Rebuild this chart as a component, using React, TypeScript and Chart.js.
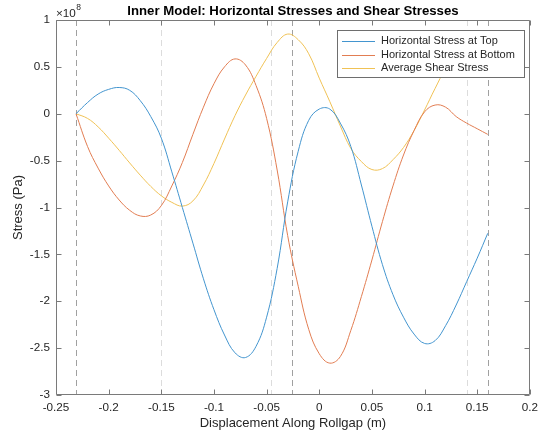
import React, { useEffect, useRef } from 'react';
import { Chart, registerables } from 'chart.js';

Chart.register(...registerables);

// Displacement along rollgap (m)
const xValues = [
  -0.231, -0.22, -0.21, -0.2, -0.19, -0.18, -0.17, -0.16, -0.15, -0.14,
  -0.13, -0.12, -0.11, -0.1, -0.09, -0.08, -0.07, -0.06, -0.05, -0.04,
  -0.03, -0.02, -0.01, 0.0, 0.01, 0.02, 0.03, 0.04, 0.05, 0.06,
  0.07, 0.08, 0.09, 0.1, 0.11, 0.12, 0.13, 0.14, 0.15, 0.16,
];

// Stress values in units of 1e8 Pa
const topStress = [
  0, 0.12, 0.21, 0.26, 0.28, 0.25, 0.14, -0.03, -0.26, -0.62,
  -1.0, -1.38, -1.76, -2.09, -2.36, -2.55, -2.6, -2.48, -2.17, -1.65,
  -0.94, -0.4, -0.07, 0.05, 0.05, -0.1, -0.35, -0.76, -1.2, -1.61,
  -1.93, -2.17, -2.35, -2.45, -2.42, -2.26, -2.04, -1.79, -1.54, -1.275,
];

const bottomStress = [
  0, -0.35, -0.58, -0.77, -0.92, -1.03, -1.09, -1.08, -0.98, -0.77,
  -0.52, -0.22, 0.07, 0.32, 0.5, 0.585, 0.52, 0.3, -0.05, -0.6,
  -1.3, -1.84, -2.3, -2.56, -2.66, -2.59, -2.31, -1.95, -1.56, -1.15,
  -0.77, -0.44, -0.18, 0.02, 0.093, 0.07, -0.03, -0.1, -0.16, -0.22,
];

const shearStress = [
  0, -0.05, -0.14, -0.26, -0.39, -0.525, -0.655, -0.775, -0.875, -0.945,
  -0.985, -0.93, -0.76, -0.53, -0.27, -0.02, 0.2, 0.4, 0.59, 0.76,
  0.85, 0.79, 0.64, 0.38, 0.13, -0.13, -0.37, -0.51, -0.595, -0.585,
  -0.49, -0.36, -0.18, 0.04, 0.27, 0.48, 0.62, 0.71, 0.77, 0.8,
];

const seriesLabels = [
  'Horizontal Stress at Top',
  'Horizontal Stress at Bottom',
  'Average Shear Stress',
];
const seriesColors = ['#4395cf', '#e27d52', '#f0c255'];

const xTicks = [-0.25, -0.2, -0.15, -0.1, -0.05, 0, 0.05, 0.1, 0.15, 0.2];
const yTicks = [-3, -2.5, -2, -1.5, -1, -0.5, 0, 0.5, 1];

const darkMarkers = [-0.231, -0.026, 0.16];
const lightMarkers = [-0.15, -0.046, 0.14];

const titleText = 'Inner Model: Horizontal Stresses and Shear Stresses';
const xTitleText = 'Displacement Along Rollgap (m)';
const yTitleText = 'Stress (Pa)';

const FONT = '"Liberation Sans", Helvetica, Arial, sans-serif';
const TEXT = '#262626';

const decorPlugin = {
  id: 'matlabDecor',
  beforeDatasetsDraw(chart: any) {
    const { ctx, chartArea, scales } = chart;
    ctx.save();
    ctx.lineWidth = 1;
    ctx.setLineDash([6, 4]);
    const drawV = (v: number, color: string) => {
      const px = Math.round(scales.x.getPixelForValue(v)) + 0.5;
      ctx.strokeStyle = color;
      ctx.beginPath();
      ctx.moveTo(px, chartArea.top);
      ctx.lineTo(px, chartArea.bottom);
      ctx.stroke();
    };
    lightMarkers.forEach((v) => drawV(v, '#dcdcdc'));
    darkMarkers.forEach((v) => drawV(v, '#a0a0a0'));
    ctx.restore();
  },
  afterDraw(chart: any) {
    const { ctx, chartArea, scales } = chart;
    const { left, right, top, bottom } = chartArea;
    ctx.save();
    // axes box
    ctx.strokeStyle = '#7a7a7a';
    ctx.lineWidth = 1;
    ctx.setLineDash([]);
    const L = Math.round(left) + 0.5;
    const R = Math.round(right) - 0.5;
    const T = Math.round(top) + 0.5;
    const B = Math.round(bottom) - 0.5;
    ctx.beginPath();
    ctx.rect(L, T, R - L, B - T);
    ctx.stroke();
    // inward ticks
    const tl = 5;
    ctx.beginPath();
    xTicks.forEach((v) => {
      const px = Math.round(scales.x.getPixelForValue(v)) + 0.5;
      ctx.moveTo(px, B);
      ctx.lineTo(px, B - tl);
      ctx.moveTo(px, T);
      ctx.lineTo(px, T + tl);
    });
    yTicks.forEach((v) => {
      const py = Math.round(scales.y.getPixelForValue(v)) + 0.5;
      ctx.moveTo(L, py);
      ctx.lineTo(L + tl, py);
      ctx.moveTo(R, py);
      ctx.lineTo(R - tl, py);
    });
    ctx.stroke();

    // title
    ctx.fillStyle = '#000';
    ctx.font = `bold 13.2px ${FONT}`;
    ctx.textAlign = 'center';
    ctx.textBaseline = 'middle';
    ctx.fillText(titleText, (left + right) / 2, 11);

    // exponent
    ctx.fillStyle = TEXT;
    ctx.textAlign = 'left';
    ctx.textBaseline = 'alphabetic';
    ctx.font = `11.7px ${FONT}`;
    ctx.fillText('\u00d710', 56, 17);
    const w = ctx.measureText('\u00d710').width;
    ctx.font = `8.5px ${FONT}`;
    ctx.fillText('8', 56 + w + 0.5, 10);

    // axis titles
    ctx.font = `13px ${FONT}`;
    ctx.textAlign = 'center';
    ctx.textBaseline = 'middle';
    ctx.fillText(xTitleText, (left + right) / 2, 423);
    ctx.save();
    ctx.translate(18, (top + bottom) / 2);
    ctx.rotate(-Math.PI / 2);
    ctx.fillText(yTitleText, 0, 0);
    ctx.restore();

    // legend
    const lx = 337.5, ly = 30.5, lw = 187, lh = 47;
    ctx.fillStyle = '#ffffff';
    ctx.fillRect(lx, ly, lw, lh);
    ctx.strokeStyle = '#6e6e6e';
    ctx.lineWidth = 1;
    ctx.strokeRect(lx, ly, lw, lh);
    ctx.font = `11px ${FONT}`;
    ctx.textAlign = 'left';
    ctx.textBaseline = 'middle';
    const rows = [41, 54.5, 68];
    seriesLabels.forEach((lab, i) => {
      ctx.strokeStyle = seriesColors[i];
      ctx.lineWidth = 1;
      ctx.beginPath();
      ctx.moveTo(342, Math.round(rows[i]) + 0.5);
      ctx.lineTo(375, Math.round(rows[i]) + 0.5);
      ctx.stroke();
      ctx.fillStyle = TEXT;
      ctx.fillText(lab, 381, rows[i]);
    });
    ctx.restore();
  },
};

export default function App() {
  const canvasRef = useRef<HTMLCanvasElement | null>(null);

  useEffect(() => {
    const canvas = canvasRef.current;
    if (!canvas) return;
    const makeData = (ys: number[]) => xValues.map((x, i) => ({ x, y: ys[i] }));
    const allSeries = [topStress, bottomStress, shearStress];
    const chart = new Chart(canvas, {
      type: 'line',
      data: {
        datasets: allSeries.map((ys, i) => ({
          label: seriesLabels[i],
          data: makeData(ys),
          borderColor: seriesColors[i],
          backgroundColor: seriesColors[i],
          borderWidth: 1,
          pointRadius: 0,
          tension: 0.4,
          fill: false,
        })),
      },
      options: {
        animation: false,
        responsive: false,
        maintainAspectRatio: false,
        devicePixelRatio: 1,
        layout: { padding: { left: 0, right: 11, top: 20, bottom: 0 } },
        plugins: {
          legend: { display: false },
          title: { display: false },
          tooltip: { enabled: false },
        },
        scales: {
          x: {
            type: 'linear',
            min: -0.25,
            max: 0.2,
            afterBuildTicks: (s: any) => {
              s.ticks = xTicks.map((v) => ({ value: v }));
            },
            afterFit: (s: any) => {
              s.height = 46;
            },
            grid: { display: false, drawTicks: false, tickLength: 0 },
            border: { display: false },
            ticks: {
              autoSkip: false,
              maxRotation: 0,
              padding: 6,
              color: TEXT,
              font: { family: FONT, size: 11.7 },
              callback: (v: any) => String(v),
            },
          },
          y: {
            type: 'linear',
            min: -3,
            max: 1,
            afterBuildTicks: (s: any) => {
              s.ticks = yTicks.map((v) => ({ value: v }));
            },
            afterFit: (s: any) => {
              s.width = 56;
            },
            grid: { display: false, drawTicks: false, tickLength: 0 },
            border: { display: false },
            ticks: {
              autoSkip: false,
              padding: 6,
              color: TEXT,
              font: { family: FONT, size: 11.7 },
              callback: (v: any) => String(v),
            },
          },
        },
      },
      plugins: [decorPlugin],
    } as any);
    return () => chart.destroy();
  }, []);

  return (
    <div style={{ position: 'fixed', left: 0, top: 0, width: 544, height: 441, background: '#fff' }}>
      <canvas ref={canvasRef} width={544} height={441} style={{ width: 544, height: 441, display: 'block' }} />
    </div>
  );
}
